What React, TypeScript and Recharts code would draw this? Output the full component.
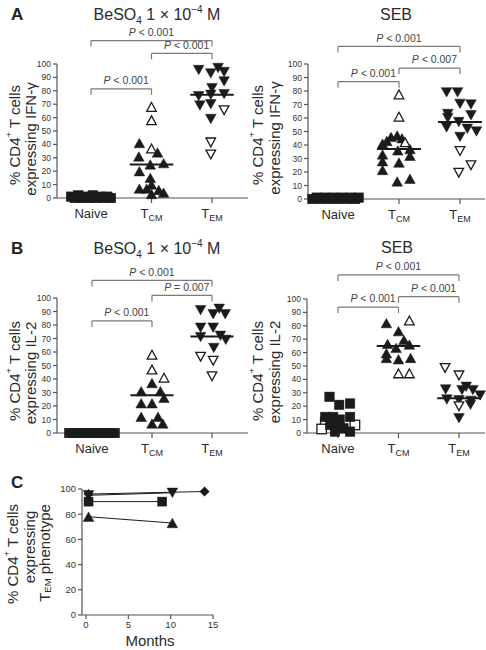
import React from "react";
import {
  ScatterChart,
  Scatter,
  XAxis,
  YAxis,
  ReferenceLine,
  ReferenceDot,
  LineChart,
  Line,
} from "recharts";

const FONT = "'Liberation Sans', Arial, Helvetica, sans-serif";
const INK = "#1b1b1b";
const AXIS = "#555";
const BRACKET = "#7a7a7a";

// each point is [jitter within the category column, percent of CD4+ T cells]
type Pt = [number, number];
// [from category, to category, bracket level, p-value text]
type Bracket = [number, number, number, string];

const categories = ["Naive", "TCM", "TEM"];
const percentTicks = [0, 10, 20, 30, 40, 50, 60, 70, 80, 90, 100];

// --- A: IFN-γ, BeSO4 1 × 10−4 M
const ifnBeNaive: Pt[] = [
  [-0.33, 1], [-0.27, 0], [-0.21, 2], [-0.15, 0], [-0.09, 1], [-0.03, 0],
  [0.03, 2], [0.09, 0], [0.15, 1], [0.21, 0], [0.27, 1], [0.33, 0],
];
const ifnBeTcm: Pt[] = [
  [-0.2, 41], [0.1, 34], [-0.21, 31], [0.2, 26], [-0.02, 25], [-0.2, 20],
  [-0.02, 15], [-0.2, 7], [-0.08, 7], [0, 10], [0.12, 6], [0.2, 4], [0, 3],
];
const ifnBeTcmOpen: Pt[] = [[0, 68], [0, 58], [0, 37]];
const ifnBeTem: Pt[] = [
  [-0.22, 95.5], [-0.02, 93], [0.1, 97], [0.2, 94], [0.2, 87], [0, 82],
  [-0.22, 76], [-0.02, 77], [0.2, 77.5], [-0.2, 69], [-0.02, 70], [-0.02, 59],
];
const ifnBeTemOpen: Pt[] = [[0.2, 65.5], [-0.02, 41.5], [-0.02, 32.5]];
const ifnBeMedians = [25, 77];
const ifnBeBrackets: Bracket[] = [
  [1, 3, 117.5, "< 0.001"],
  [2, 3, 108, "< 0.001"],
  [1, 2, 81.5, "< 0.001"],
];

// --- A: IFN-γ, SEB
const ifnSebNaive: Pt[] = [
  [-0.42, 0], [-0.35, 1], [-0.28, 0], [-0.21, 1], [-0.14, 0], [-0.07, 1],
  [0, 0], [0.07, 1], [0.14, 0], [0.21, 1], [0.28, 0], [0.34, 1],
];
const ifnSebTcm: Pt[] = [
  [-0.13, 46], [-0.03, 47], [0.05, 45], [-0.2, 43], [-0.27, 41], [-0.02, 36],
  [0.18, 37], [-0.27, 33], [0.18, 32], [-0.27, 28], [0, 27], [-0.27, 21.5],
  [-0.03, 13], [0.18, 15],
];
const ifnSebTcmOpen: Pt[] = [[0, 77.5], [0, 61], [0.1, 42]];
const ifnSebTem: Pt[] = [
  [-0.22, 79], [-0.04, 79], [0, 70.5], [0.18, 70], [-0.2, 63], [-0.2, 60],
  [0.18, 62], [-0.02, 57], [-0.22, 53], [0.12, 52], [0.27, 50], [0, 46],
];
const ifnSebTemOpen: Pt[] = [[0, 35.5], [0.18, 25], [-0.02, 19.5]];
const ifnSebMedians = [37, 57];
const ifnSebBrackets: Bracket[] = [
  [1, 3, 113, "< 0.001"],
  [2, 3, 97, "< 0.007"],
  [1, 2, 87, "< 0.001"],
];

// --- B: IL-2, BeSO4 1 × 10−4 M
const il2BeNaive: Pt[] = [
  [-0.38, 0], [-0.31, 0], [-0.24, 0], [-0.17, 0], [-0.1, 0], [-0.03, 0],
  [0.04, 0], [0.11, 0], [0.18, 0], [0.25, 0], [0.32, 0], [0.38, 0],
];
const il2BeTcm: Pt[] = [
  [0, 37], [-0.18, 31], [0.14, 31], [0.2, 26], [-0.18, 22], [0, 22],
  [-0.18, 12], [0.1, 12], [0, 7], [0.18, 7],
];
const il2BeTcmOpen: Pt[] = [[0, 58], [0, 47], [0.2, 41]];
const il2BeTem: Pt[] = [
  [-0.19, 91], [0.02, 88], [0.12, 92], [0.22, 88], [-0.19, 78], [0.02, 78],
  [-0.19, 71], [0.14, 72], [0.23, 69], [0.03, 63],
];
const il2BeTemOpen: Pt[] = [[-0.19, 56.5], [0.02, 53.5], [0, 42]];
const il2BeMedians = [28, 71.5];
const il2BeBrackets: Bracket[] = [
  [1, 3, 113, "< 0.001"],
  [2, 3, 102, "= 0.007"],
  [1, 2, 83, "< 0.001"],
];

// --- B: IL-2, SEB
const il2SebNaiveOpen: Pt[] = [[-0.21, 8], [-0.27, 3], [0.28, 6]];
const il2SebNaive: Pt[] = [
  [-0.14, 27], [0.02, 21], [0.2, 22], [0.2, 12], [-0.21, 12], [-0.08, 12],
  [0.03, 10], [-0.13, 6], [-0.02, 5], [0.09, 3.5], [0.2, 1], [-0.05, 1],
];
const il2SebTcm: Pt[] = [
  [-0.2, 82], [0, 76], [-0.18, 66.5], [0.09, 69.5], [0.18, 66], [-0.04, 63.5],
  [-0.2, 59.5], [-0.2, 56], [0, 55], [0.2, 56],
];
const il2SebTcmOpen: Pt[] = [[0.18, 84], [0, 44.5], [0.18, 44.5]];
const il2SebTem: Pt[] = [
  [-0.22, 32.5], [0.05, 32], [0.12, 34.5], [0.23, 32], [0.35, 28], [-0.2, 25],
  [0, 24.5], [0.2, 24], [0.19, 21], [0, 11],
];
const il2SebTemOpen: Pt[] = [[-0.23, 48.5], [0, 43], [0, 20]];
const il2SebMedians = [65, 26];
const il2SebBrackets: Bracket[] = [
  [1, 3, 118, "< 0.001"],
  [2, 3, 101.7, "< 0.001"],
  [1, 2, 94, "< 0.001"],
];

// --- C: TEM phenotype over time, one line per subject
const monthTicks = [0, 5, 10, 15];
const temPctTicks = [0, 20, 40, 60, 80, 100];
const subjTriangle = [{ x: 0.3, y: 78 }, { x: 10.2, y: 73 }];
const subjSquare = [{ x: 0.3, y: 90 }, { x: 9, y: 90 }];
const subjDown = [{ x: 0.3, y: 95 }, { x: 10.2, y: 97 }];
const subjDiamond = [{ x: 0.3, y: 96 }, { x: 14, y: 98 }];

const toPoints = (cat: number, pts: Pt[]) => pts.map(([dx, v]) => ({ x: cat + dx, y: v }));

function Tri({ cx, cy, down = false, open = false }: any) {
  const hw = open ? 4.8 : 5.3;
  const hh = open ? 4.4 : 4.7;
  const pts = down
    ? `${cx - hw},${cy - hh} ${cx + hw},${cy - hh} ${cx},${cy + hh}`
    : `${cx},${cy - hh} ${cx + hw},${cy + hh} ${cx - hw},${cy + hh}`;
  return (
    <polygon
      points={pts}
      fill={open ? "#fff" : INK}
      stroke={INK}
      strokeWidth={open ? 1.3 : 0.5}
      strokeLinejoin="miter"
    />
  );
}

function Sq({ cx, cy, open = false, s = 9.5 }: any) {
  return (
    <rect
      x={cx - s / 2}
      y={cy - s / 2}
      width={s}
      height={s}
      fill={open ? "#fff" : INK}
      stroke={INK}
      strokeWidth={open ? 1.3 : 0.5}
    />
  );
}

function Diamond({ cx, cy }: any) {
  const r = 5;
  return <polygon points={`${cx},${cy - r} ${cx + r},${cy} ${cx},${cy + r} ${cx - r},${cy}`} fill={INK} />;
}

function CatTick({ x, y, payload }: any) {
  const name = categories[Math.round(payload.value) - 1];
  const sub = name.startsWith("T") ? name.slice(1) : "";
  return (
    <text x={x} y={y + 13} textAnchor="middle" fontSize={13} fill="#2a2a2a" fontFamily={FONT}>
      {sub ? "T" : name}
      {sub && (
        <tspan fontSize={9} dy={3}>
          {sub}
        </tspan>
      )}
    </text>
  );
}

function PLabel({ cx, cy, text }: any) {
  return (
    <text x={cx} y={cy} textAnchor="middle" dominantBaseline="central" fontSize={10.5} fill="#444" fontFamily={FONT}>
      <tspan fontStyle="italic">P</tspan> {text}
    </text>
  );
}

interface PanelProps {
  left: number;
  top: number;
  width: number;
  height: number;
  margin: { top: number; right: number; bottom: number; left: number };
  yAxisWidth: number;
  xDomain: [number, number];
  naive: Pt[];
  naiveOpen?: Pt[];
  tcm: Pt[];
  tcmOpen: Pt[];
  tem: Pt[];
  temOpen: Pt[];
  medians: number[];
  brackets: Bracket[];
}

function DotPanel(p: PanelProps) {
  const tickStyle = { fontSize: 8.5, fill: "#333", fontFamily: FONT };
  return (
    <div style={{ position: "absolute", left: p.left, top: p.top }}>
      <ScatterChart width={p.width} height={p.height} margin={p.margin}>
        <XAxis
          type="number"
          dataKey="x"
          domain={p.xDomain}
          ticks={[1, 2, 3]}
          interval={0}
          tick={<CatTick />}
          tickSize={5}
          height={30}
          stroke={AXIS}
          strokeWidth={1.2}
        />
        <YAxis
          type="number"
          dataKey="y"
          domain={[0, 100]}
          ticks={percentTicks}
          interval={0}
          tick={tickStyle}
          tickSize={4}
          tickMargin={2}
          width={p.yAxisWidth}
          stroke={AXIS}
          strokeWidth={1.2}
        />
        {p.naiveOpen && (
          <Scatter
            data={toPoints(1, p.naiveOpen)}
            isAnimationActive={false}
            shape={(s: any) => <Sq cx={s.cx} cy={s.cy} open />}
          />
        )}
        <Scatter data={toPoints(1, p.naive)} isAnimationActive={false} shape={(s: any) => <Sq cx={s.cx} cy={s.cy} />} />
        <Scatter data={toPoints(2, p.tcm)} isAnimationActive={false} shape={(s: any) => <Tri cx={s.cx} cy={s.cy} />} />
        <Scatter
          data={toPoints(2, p.tcmOpen)}
          isAnimationActive={false}
          shape={(s: any) => <Tri cx={s.cx} cy={s.cy} open />}
        />
        <Scatter data={toPoints(3, p.tem)} isAnimationActive={false} shape={(s: any) => <Tri cx={s.cx} cy={s.cy} down />} />
        <Scatter
          data={toPoints(3, p.temOpen)}
          isAnimationActive={false}
          shape={(s: any) => <Tri cx={s.cx} cy={s.cy} down open />}
        />
        {p.medians.map((m, i) => (
          <ReferenceLine
            key={`med-${i}`}
            segment={[
              { x: i + 2 - 0.36, y: m },
              { x: i + 2 + 0.36, y: m },
            ]}
            stroke={INK}
            strokeWidth={2}
            ifOverflow="visible"
          />
        ))}
        {p.brackets.map(([a, b, lvl, txt], i) => [
          <ReferenceLine
            key={`bl-${i}`}
            segment={[{ x: a, y: lvl - 4.5 }, { x: a, y: lvl }]}
            stroke={BRACKET}
            strokeWidth={1.2}
            ifOverflow="visible"
          />,
          <ReferenceLine
            key={`bt-${i}`}
            segment={[{ x: a, y: lvl }, { x: b, y: lvl }]}
            stroke={BRACKET}
            strokeWidth={1.2}
            ifOverflow="visible"
          />,
          <ReferenceLine
            key={`br-${i}`}
            segment={[{ x: b, y: lvl - 4.5 }, { x: b, y: lvl }]}
            stroke={BRACKET}
            strokeWidth={1.2}
            ifOverflow="visible"
          />,
          <ReferenceDot
            key={`bp-${i}`}
            x={(a + b) / 2 + (b - a === 1 ? 0.08 : 0)}
            y={lvl + 6.5}
            r={0}
            ifOverflow="visible"
            shape={(s: any) => <PLabel cx={s.cx} cy={s.cy} text={txt} />}
          />,
        ])}
      </ScatterChart>
    </div>
  );
}

function YLabel({ x, y, children, size = 15 }: any) {
  return (
    <text
      transform={`translate(${x},${y}) rotate(-90)`}
      textAnchor="middle"
      dominantBaseline="central"
      fontSize={size}
      fill="#2a2a2a"
      fontFamily={FONT}
    >
      {children}
    </text>
  );
}

function BeTitle({ x, y }: any) {
  return (
    <text x={x} y={y} textAnchor="middle" fontSize={16} fill="#2a2a2a" fontFamily={FONT}>
      BeSO
      <tspan fontSize={10} dy={4}>
        4
      </tspan>
      <tspan dy={-4}> 1 × 10</tspan>
      <tspan fontSize={10} dy={-7}>
        −4
      </tspan>
      <tspan dy={7}> M</tspan>
    </text>
  );
}

function CD4({ x, y }: any) {
  return (
    <YLabel x={x} y={y}>
      % CD4
      <tspan fontSize={9.5} dy={-6}>
        +
      </tspan>
      <tspan dy={6}> T cells</tspan>
    </YLabel>
  );
}

export default function App() {
  const tickStyle = { fontSize: 9.5, fill: "#333", fontFamily: FONT };
  return (
    <div style={{ position: "absolute", left: 0, top: 0, width: 486, height: 650, background: "#fff" }}>
      <DotPanel
        left={0}
        top={0}
        width={250}
        height={232}
        margin={{ top: 64, right: 2, bottom: 4, left: 0 }}
        yAxisWidth={57}
        xDomain={[0.438, 3.595]}
        naive={ifnBeNaive}
        tcm={ifnBeTcm}
        tcmOpen={ifnBeTcmOpen}
        tem={ifnBeTem}
        temOpen={ifnBeTemOpen}
        medians={ifnBeMedians}
        brackets={ifnBeBrackets}
      />
      <DotPanel
        left={240}
        top={0}
        width={246}
        height={233}
        margin={{ top: 64, right: 1, bottom: 4, left: 0 }}
        yAxisWidth={68}
        xDomain={[0.508, 3.41]}
        naive={ifnSebNaive}
        tcm={ifnSebTcm}
        tcmOpen={ifnSebTcmOpen}
        tem={ifnSebTem}
        temOpen={ifnSebTemOpen}
        medians={ifnSebMedians}
        brackets={ifnSebBrackets}
      />
      <DotPanel
        left={0}
        top={240}
        width={250}
        height={227}
        margin={{ top: 58, right: 2, bottom: 4, left: 0 }}
        yAxisWidth={57}
        xDomain={[0.417, 3.6]}
        naive={il2BeNaive}
        tcm={il2BeTcm}
        tcmOpen={il2BeTcmOpen}
        tem={il2BeTem}
        temOpen={il2BeTemOpen}
        medians={il2BeMedians}
        brackets={il2BeBrackets}
      />
      <DotPanel
        left={240}
        top={240}
        width={246}
        height={227}
        margin={{ top: 59, right: 1, bottom: 4, left: 0 }}
        yAxisWidth={67}
        xDomain={[0.488, 3.43]}
        naive={il2SebNaive}
        naiveOpen={il2SebNaiveOpen}
        tcm={il2SebTcm}
        tcmOpen={il2SebTcmOpen}
        tem={il2SebTem}
        temOpen={il2SebTemOpen}
        medians={il2SebMedians}
        brackets={il2SebBrackets}
      />

      <div style={{ position: "absolute", left: 0, top: 470 }}>
        <LineChart width={230} height={180} margin={{ top: 19, right: 17, bottom: 15, left: 0 }}>
          <XAxis
            type="number"
            dataKey="x"
            domain={[-0.47, 15]}
            ticks={monthTicks}
            interval={0}
            tick={tickStyle}
            tickSize={4}
            height={20}
            stroke={AXIS}
            strokeWidth={1.2}
          />
          <YAxis
            type="number"
            dataKey="y"
            domain={[0, 100]}
            ticks={temPctTicks}
            interval={0}
            tick={tickStyle}
            tickSize={4}
            tickMargin={2}
            width={82}
            stroke={AXIS}
            strokeWidth={1.2}
          />
          <Line
            data={subjTriangle}
            dataKey="y"
            stroke={INK}
            strokeWidth={1}
            isAnimationActive={false}
            dot={(s: any) => <Tri key={`t-${s.index}`} cx={s.cx} cy={s.cy} />}
          />
          <Line
            data={subjSquare}
            dataKey="y"
            stroke={INK}
            strokeWidth={1}
            isAnimationActive={false}
            dot={(s: any) => <Sq key={`s-${s.index}`} cx={s.cx} cy={s.cy} s={9} />}
          />
          <Line
            data={subjDown}
            dataKey="y"
            stroke={INK}
            strokeWidth={1}
            isAnimationActive={false}
            dot={(s: any) => <Tri key={`d-${s.index}`} cx={s.cx} cy={s.cy} down />}
          />
          <Line
            data={subjDiamond}
            dataKey="y"
            stroke={INK}
            strokeWidth={1}
            isAnimationActive={false}
            dot={(s: any) => <Diamond key={`m-${s.index}`} cx={s.cx} cy={s.cy} />}
          />
        </LineChart>
      </div>

      <svg width={486} height={650} style={{ position: "absolute", left: 0, top: 0, pointerEvents: "none" }}>
        <text x={11} y={20} fontSize={17} fontWeight="bold" fill="#222" fontFamily={FONT}>A</text>
        <text x={11} y={254} fontSize={17} fontWeight="bold" fill="#222" fontFamily={FONT}>B</text>
        <text x={11} y={488} fontSize={17} fontWeight="bold" fill="#222" fontFamily={FONT}>C</text>

        <BeTitle x={157} y={20} />
        <text x={396} y={20} textAnchor="middle" fontSize={16} fill="#2a2a2a" fontFamily={FONT}>SEB</text>
        <BeTitle x={157} y={254} />
        <text x={397} y={253} textAnchor="middle" fontSize={16} fill="#2a2a2a" fontFamily={FONT}>SEB</text>

        <CD4 x={14} y={135} />
        <YLabel x={30} y={139}>expressing IFN-γ</YLabel>
        <CD4 x={257} y={135} />
        <YLabel x={274} y={138}>expressing IFN-γ</YLabel>

        <CD4 x={14} y={371} />
        <YLabel x={30} y={373}>expressing IL-2</YLabel>
        <CD4 x={257} y={371} />
        <YLabel x={274} y={372}>expressing IL-2</YLabel>

        <CD4 x={12} y={554} />
        <YLabel x={29} y={547}>expressing</YLabel>
        <YLabel x={44} y={553}>
          T
          <tspan fontSize={9.5} dy={3}>EM</tspan>
          <tspan dy={-3}> phenotype</tspan>
        </YLabel>
        <text x={150} y={646} textAnchor="middle" fontSize={15} fill="#2a2a2a" fontFamily={FONT}>Months</text>
      </svg>
    </div>
  );
}
